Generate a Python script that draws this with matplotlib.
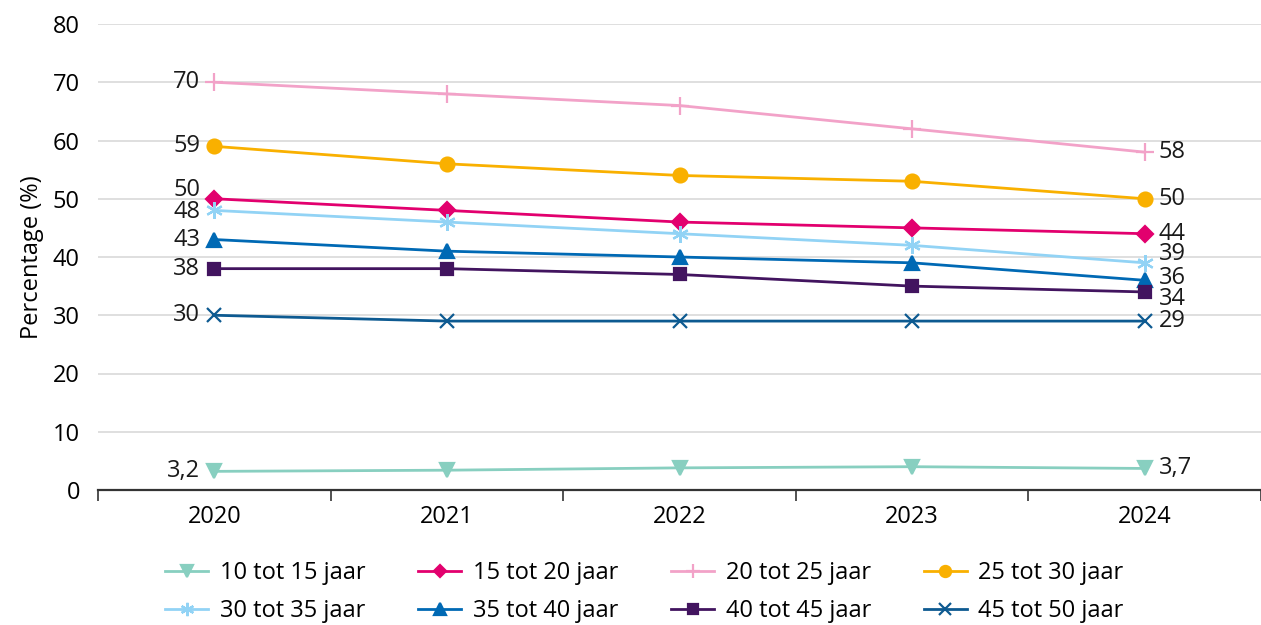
import matplotlib.pyplot as plt

plt.rcParams['font.family'] = ['Open Sans', 'DejaVu Sans']

years = ['2020', '2021', '2022', '2023', '2024']
groups = ['10 tot 15 jaar', '15 tot 20 jaar', '20 tot 25 jaar', '25 tot 30 jaar',
          '30 tot 35 jaar', '35 tot 40 jaar', '40 tot 45 jaar', '45 tot 50 jaar']
leeftijd_10_15 = [3.2, 3.4, 3.8, 4.0, 3.7]
leeftijd_15_20 = [50, 48, 46, 45, 44]
leeftijd_20_25 = [70, 68, 66, 62, 58]
leeftijd_25_30 = [59, 56, 54, 53, 50]
leeftijd_30_35 = [48, 46, 44, 42, 39]
leeftijd_35_40 = [43, 41, 40, 39, 36]
leeftijd_40_45 = [38, 38, 37, 35, 34]
leeftijd_45_50 = [30, 29, 29, 29, 29]
series = [leeftijd_10_15, leeftijd_15_20, leeftijd_20_25, leeftijd_25_30,
          leeftijd_30_35, leeftijd_35_40, leeftijd_40_45, leeftijd_45_50]

colors = ['#88cfc0', '#e2006e', '#f2a2c8', '#f9b000',
          '#92d3f5', '#0069b4', '#42145f', '#0d5a91']
markers = ['v', 'D', '+', 'o', (6, 2, 0), '^', 's', 'x']
msizes = [10, 8, 13, 10, 12, 10, 9, 10]
# vertical nudges (points) for the end labels so they don't overlap
left_dy = [0, 6, 0, 0, -1, 0, 0, 0]
right_dy = [0, 0, 0, 0, 6, 2, -5, 0]
FS = 17


def fmt(v):
    return ('%g' % v).replace('.', ',')


fig = plt.figure(figsize=(12.61, 6.25), dpi=100)
ax = fig.add_axes([98 / 1261, 135 / 625, 1 - 98 / 1261, 466 / 625])

x = list(range(len(years)))
lines = []
for vals, name, c, m, ms, ldy, rdy in zip(series, groups, colors, markers, msizes, left_dy, right_dy):
    ln, = ax.plot(x, vals, color=c, marker=m, markersize=ms, linewidth=2,
                  markeredgewidth=1.6, label=name, clip_on=False)
    lines.append(ln)
    ax.annotate(fmt(vals[0]), (x[0], vals[0]), xytext=(-10, ldy), textcoords='offset points',
                ha='right', va='center', fontsize=FS, color='#1a1a1a')
    ax.annotate(fmt(vals[-1]), (x[-1], vals[-1]), xytext=(10, rdy), textcoords='offset points',
                ha='left', va='center', fontsize=FS, color='#1a1a1a')

ax.set_ylim(0, 80)
ax.set_yticks(range(0, 81, 10))
ax.set_xlim(-0.5, (1261 - 215) / 235)
ax.set_xticks(x)
ax.set_xticklabels(years)
ax.set_xticks([i + 0.5 for i in range(-1, 5)], minor=True)
ax.tick_params(axis='x', which='major', length=0, pad=11, labelsize=FS)
ax.tick_params(axis='x', which='minor', length=8, width=1.2, color='#333333', direction='out')
ax.tick_params(axis='y', length=0, pad=13, labelsize=FS)
ax.grid(axis='y', color='#d9d9d9', linewidth=1.2)
ax.set_axisbelow(True)
for s in ['top', 'right', 'left']:
    ax.spines[s].set_visible(False)
ax.spines['bottom'].set_color('#333333')
ax.spines['bottom'].set_linewidth(1.6)
ax.set_ylabel('Percentage (%)', fontsize=FS, labelpad=6)

# legend fills column-wise; reorder so it reads row by row
order = [0, 4, 1, 5, 2, 6, 3, 7]
ax.legend([lines[i] for i in order], [groups[i] for i in order],
          loc='center', bbox_to_anchor=(0.470, -0.219), ncol=4,
          frameon=False, fontsize=FS, columnspacing=2.25, handlelength=1.8,
          handletextpad=0.5, labelspacing=0.6, markerscale=0.8)

fig.savefig('out.png', dpi=100)
